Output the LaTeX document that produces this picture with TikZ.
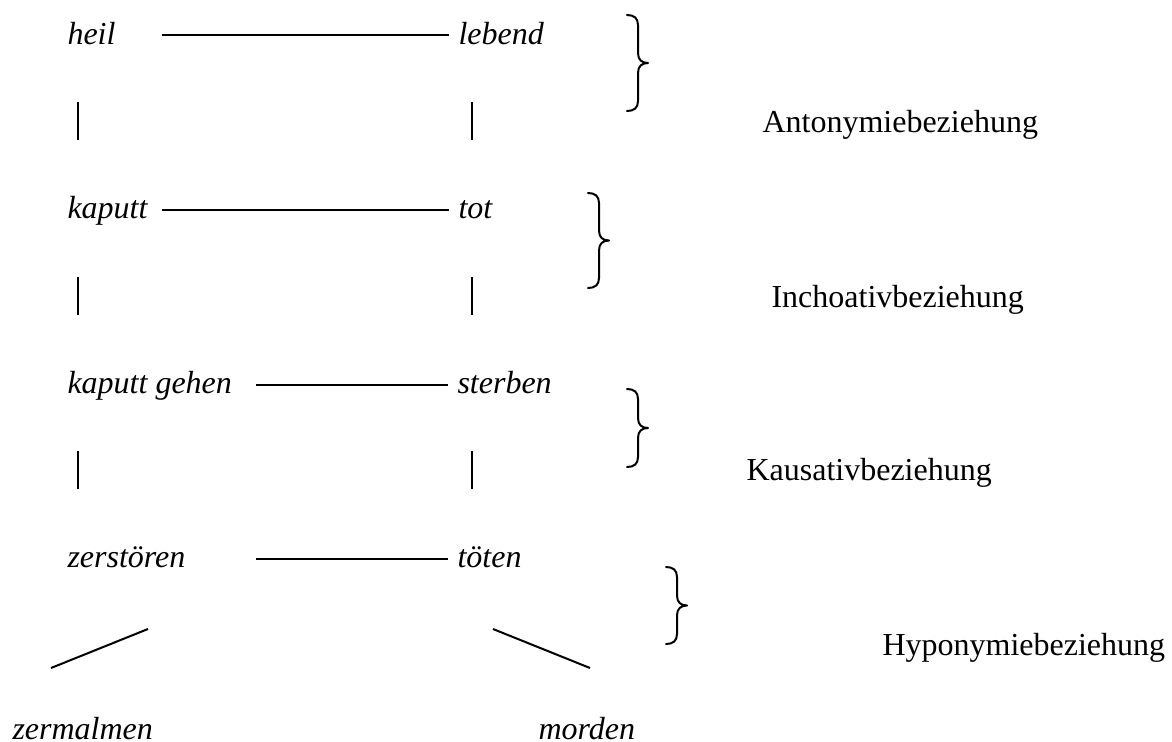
\documentclass[tikz,border=0pt]{standalone}
\usepackage{fontspec}
\setmainfont{Liberation Serif}
\begin{document}
\newcommand{\wbrace}[4]{% name, left x, top y, bottom y
  \pgfmathsetmacro{\bL}{#2}\pgfmathsetmacro{\bT}{#3}\pgfmathsetmacro{\bB}{#4}%
  \pgfmathsetmacro{\bS}{#2+11}\pgfmathsetmacro{\bR}{#2+21}%
  \pgfmathsetmacro{\bM}{(#3+#4)/2}%
  \coordinate (#1tip) at (\bR,\bM);
  \draw[bracestroke] (\bL,\bT) .. controls (\bS-4,\bT) and (\bS,\bT+3) .. (\bS,\bT+10)
    -- (\bS,\bM-10) .. controls (\bS,\bM-3) and (\bS+4,\bM) .. (#1tip)
    .. controls (\bS+4,\bM) and (\bS,\bM+3) .. (\bS,\bM+10)
    -- (\bS,\bB-10) .. controls (\bS,\bB-3) and (\bS-4,\bB) .. (\bL,\bB);
}
\begin{tikzpicture}[x=0.375pt,y=-0.375pt,
  word/.style={anchor=base west, inner sep=0pt, font=\fontsize{12}{14}\selectfont\itshape},
  rel/.style={anchor=base west, inner sep=0pt, font=\fontsize{12}{14}\selectfont},
  hline/.style={line width=0.5pt},
  vbar/.style={line width=1pt},
  slant/.style={line width=0.75pt},
  bracestroke/.style={line width=0.75pt, line cap=round, line join=round}]
\useasboundingbox (0,0) rectangle (1172,742);

% words
\node[word] (heil) at (67,44) {heil};
\node[word] (lebend) at (458,44) {lebend};
\node[word] (kaputt) at (67,218) {kaputt};
\node[word] (tot) at (458,218) {tot};
\node[word] (kgehen) at (67,393) {kaputt gehen};
\node[word] (sterben) at (457,393) {sterben};
\node[word] (zerstoeren) at (67,567) {zerstören};
\node[word] (toeten) at (457,567) {töten};
\node[word] (zermalmen) at (12,739) {zermalmen};
\node[word] (morden) at (538,739) {morden};

% relation labels
\node[rel] (anto) at (762,132) {Antonymiebeziehung};
\node[rel] (incho) at (771,307) {Inchoativbeziehung};
\node[rel] (kausa) at (746,480) {Kausativbeziehung};
\node[rel] (hypo) at (882,655) {Hyponymiebeziehung};

% horizontal connectors
\coordinate (h1a) at (162,35);  \coordinate (h1b) at (449,35);
\coordinate (h2a) at (162,210); \coordinate (h2b) at (449,210);
\coordinate (h3a) at (256,385); \coordinate (h3b) at (448,385);
\coordinate (h4a) at (256,559); \coordinate (h4b) at (448,559);
\draw[hline] (h1a) -- (h1b);
\draw[hline] (h2a) -- (h2b);
\draw[hline] (h3a) -- (h3b);
\draw[hline] (h4a) -- (h4b);

% vertical bars
\coordinate (v1a) at (78,102);  \coordinate (v1b) at (78,140);
\coordinate (v2a) at (472,102); \coordinate (v2b) at (472,140);
\coordinate (v3a) at (78,277);  \coordinate (v3b) at (78,315);
\coordinate (v4a) at (472,277); \coordinate (v4b) at (472,315);
\coordinate (v5a) at (78,451);  \coordinate (v5b) at (78,489);
\coordinate (v6a) at (472,451); \coordinate (v6b) at (472,489);
\draw[vbar] (v1a) -- (v1b);
\draw[vbar] (v2a) -- (v2b);
\draw[vbar] (v3a) -- (v3b);
\draw[vbar] (v4a) -- (v4b);
\draw[vbar] (v5a) -- (v5b);
\draw[vbar] (v6a) -- (v6b);

% slanted lines
\coordinate (s1a) at (148,629); \coordinate (s1b) at (51,668);
\coordinate (s2a) at (493,629); \coordinate (s2b) at (590,668);
\draw[slant] (s1a) -- (s1b);
\draw[slant] (s2a) -- (s2b);

% braces
\wbrace{b1}{627}{15}{111}
\wbrace{b2}{588}{193}{288}
\wbrace{b3}{627}{389}{467}
\wbrace{b4}{666}{567}{644}
\end{tikzpicture}
\end{document}
